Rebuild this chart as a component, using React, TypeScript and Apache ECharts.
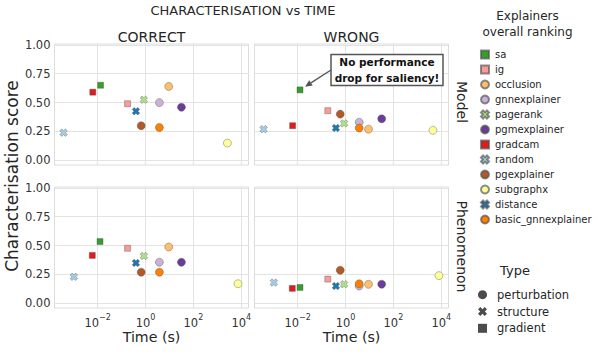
import React, { useEffect, useRef } from 'react';
import * as echarts from 'echarts';

const FONT = 'DejaVu Sans';

const explainers = ['sa', 'ig', 'occlusion', 'gnnexplainer', 'pagerank', 'pgmexplainer', 'gradcam', 'random', 'pgexplainer', 'subgraphx', 'distance', 'basic_gnnexplainer'];
const explainerKinds = ['gradient', 'gradient', 'perturbation', 'perturbation', 'structure', 'perturbation', 'gradient', 'structure', 'perturbation', 'perturbation', 'structure', 'perturbation'];
const explainerColors = ['#33a02c', '#fb9a99', '#fdbf6f', '#cab2d6', '#b2df8a', '#6a3d9a', '#e31a1c', '#a6cee3', '#b15928', '#ffff99', '#1f78b4', '#ff7f00'];
const typeNames = ['perturbation', 'structure', 'gradient'];

// time in seconds per explainer (same order as explainers)
const timeModelCorrect = [0.0133, 0.178, 9.33, 3.8, 0.851, 31.6, 0.0063, 0.00038, 0.661, 2630, 0.398, 3.8];
const timeModelWrong = [0.0126, 0.182, 9.12, 3.72, 0.871, 32.4, 0.0062, 0.00038, 0.603, 4467, 0.398, 3.72];
const timePhenCorrect = [0.0126, 0.178, 9.33, 3.8, 0.851, 31.6, 0.006, 0.00102, 0.661, 7244, 0.398, 3.8];
const timePhenWrong = [0.0126, 0.182, 9.12, 3.72, 0.871, 32.4, 0.006, 0.00102, 0.603, 7943, 0.398, 3.72];

// characterisation score per explainer
const scoreModelCorrect = [0.65, 0.49, 0.64, 0.5, 0.525, 0.46, 0.59, 0.24, 0.3, 0.15, 0.425, 0.285];
const scoreModelWrong = [0.61, 0.43, 0.27, 0.33, 0.32, 0.36, 0.3, 0.27, 0.4, 0.26, 0.28, 0.28];
const scorePhenCorrect = [0.535, 0.477, 0.488, 0.356, 0.41, 0.356, 0.415, 0.23, 0.27, 0.17, 0.35, 0.27];
const scorePhenWrong = [0.138, 0.21, 0.165, 0.15, 0.166, 0.166, 0.13, 0.18, 0.287, 0.24, 0.15, 0.17];

const columnTitles = ['CORRECT', 'WRONG'];
const rowTitles = ['Model', 'Phenomenon'];
const xTickValues = [1e-2, 1, 1e2, 1e4];
const yTickValues = [0, 0.25, 0.5, 0.75, 1];

const X_PATH = 'path://M0,2.6L2.6,0L5,2.4L7.4,0L10,2.6L7.6,5L10,7.4L7.4,10L5,7.6L2.6,10L0,7.4L2.4,5Z';
const SYMBOL: Record<string, string> = { perturbation: 'circle', structure: X_PATH, gradient: 'rect' };
const SIZE: Record<string, number> = { perturbation: 8, structure: 7.5, gradient: 6 };

const panels = [
  { times: timeModelCorrect, scores: scoreModelCorrect },
  { times: timeModelWrong, scores: scoreModelWrong },
  { times: timePhenCorrect, scores: scorePhenCorrect },
  { times: timePhenWrong, scores: scorePhenWrong },
];

const GRID_LEFT = [54.5, 254.5];
const GRID_TOP = [44, 187];
const GRID_W = 194;
const GRID_H = 121;

export default function App() {
  const ref = useRef<HTMLDivElement>(null);
  useEffect(() => {
    if (!ref.current) return;
    const chart = echarts.init(ref.current, null, { renderer: 'svg' });

    const grids: any[] = [];
    const xAxes: any[] = [];
    const yAxes: any[] = [];
    const series: any[] = [];

    panels.forEach((p, idx) => {
      const row = Math.floor(idx / 2);
      const col = idx % 2;
      grids.push({
        left: GRID_LEFT[col], top: GRID_TOP[row], width: GRID_W, height: GRID_H,
        show: true, borderColor: '#dcdcdc', borderWidth: 1, backgroundColor: '#fff',
      });
      xAxes.push({
        type: 'log', logBase: 10, gridIndex: idx,
        min: Math.pow(10, -3.8), max: Math.pow(10, 4.3),
        axisLine: { show: false },
        axisTick: { show: false, customValues: xTickValues },
        splitLine: { show: true, lineStyle: { color: '#e3e3e3', width: 1 } },
        axisLabel: {
          show: row === 1,
          customValues: xTickValues,
          margin: 5,
          formatter: (v: number) => {
            const e = Math.round(Math.log10(v));
            return '{b|10}{s|' + (e < 0 ? '\u2212' + Math.abs(e) : String(e)) + '}';
          },
          rich: {
            b: { fontSize: 11.5, fontFamily: FONT, color: '#333', lineHeight: 16, verticalAlign: 'bottom' },
            s: { fontSize: 8, fontFamily: FONT, color: '#333', lineHeight: 16, verticalAlign: 'top' },
          },
        },
        name: row === 1 ? 'Time (s)' : '',
        nameLocation: 'middle',
        nameGap: 22,
        nameTextStyle: { fontSize: 14.2, fontFamily: FONT, color: '#262626' },
      });
      yAxes.push({
        type: 'value', gridIndex: idx, min: -0.04, max: 1.007,
        axisLine: { show: false },
        axisTick: { show: false, customValues: yTickValues },
        splitLine: { show: true, lineStyle: { color: '#e3e3e3', width: 1 } },
        axisLabel: {
          show: col === 0,
          customValues: yTickValues,
          margin: 4,
          fontSize: 11.5,
          fontFamily: FONT,
          color: '#333',
          formatter: (v: number) => v.toFixed(2),
        },
      });
      explainers.forEach((name, i) => {
        const kind = explainerKinds[i];
        series.push({
          type: 'scatter', name, xAxisIndex: idx, yAxisIndex: idx,
          data: [[p.times[i], p.scores[i]]],
          symbol: SYMBOL[kind], symbolSize: SIZE[kind],
          itemStyle: { color: explainerColors[i], borderColor: 'rgba(80,80,80,0.65)', borderWidth: 0.6, opacity: 1 },
          emphasis: { disabled: true },
          silent: true,
          z: 3,
        });
      });
    });

    typeNames.forEach((name) => {
      series.push({
        type: 'scatter', name, xAxisIndex: 0, yAxisIndex: 0, data: [],
        symbol: SYMBOL[name], symbolSize: SIZE[name],
        itemStyle: { color: '#1f1f1f' },
      });
    });

    const texts: any[] = [
      { text: 'CHARACTERISATION vs TIME', x: 243, y: 10, size: 13, rot: 0 },
      { text: columnTitles[0], x: GRID_LEFT[0] + GRID_W / 2, y: 36.5, size: 14, rot: 0 },
      { text: columnTitles[1], x: GRID_LEFT[1] + GRID_W / 2, y: 36.5, size: 14, rot: 0 },
      { text: rowTitles[0], x: 462, y: 102, size: 14, rot: -Math.PI / 2 },
      { text: rowTitles[1], x: 462, y: 246.5, size: 14, rot: -Math.PI / 2 },
      { text: 'Characterisation score', x: 12, y: 176, size: 17, rot: Math.PI / 2 },
      { text: 'Explainers', x: 527.5, y: 16, size: 12, rot: 0 },
      { text: 'overall ranking', x: 527.5, y: 32, size: 12, rot: 0 },
      { text: 'Type', x: 515, y: 270, size: 13, rot: 0 },
    ];

    const textGraphics = texts.map((t) => ({
      type: 'text', x: t.x, y: t.y, rotation: t.rot, silent: true,
      style: { text: t.text, fontSize: t.size, fontFamily: FONT, fill: '#262626', textAlign: 'center', textVerticalAlign: 'middle' },
    }));

    chart.setOption({
      animation: false,
      textStyle: { fontFamily: FONT },
      grid: grids,
      xAxis: xAxes,
      yAxis: yAxes,
      series,
      legend: [
        {
          data: explainers, orient: 'vertical', left: 480, top: 48.5, padding: 0,
          itemWidth: 8, itemHeight: 8, itemGap: 3.0, selectedMode: false,
          textStyle: { fontSize: 10, lineHeight: 12, fontFamily: FONT, color: '#262626', padding: [0, 0, 0, 1] },
        },
        {
          data: typeNames, orient: 'vertical', left: 478, top: 287.7, padding: 0,
          itemWidth: 9, itemHeight: 9, itemGap: 2.8, selectedMode: false,
          textStyle: { fontSize: 11.5, lineHeight: 14, fontFamily: FONT, color: '#262626', padding: [0, 0, 0, 5] },
        },
      ],
      graphic: textGraphics,
    });

    // annotation arrow pointing at the saliency (sa) point in the WRONG / Model panel
    const target = chart.convertToPixel({ xAxisIndex: 1, yAxisIndex: 1 } as any, [timeModelWrong[0], scoreModelWrong[0]]) as number[];
    const start = [331, 70];
    const dx = target[0] - start[0];
    const dy = target[1] - start[1];
    const len = Math.sqrt(dx * dx + dy * dy);
    const ux = dx / len;
    const uy = dy / len;
    const tip = [target[0] - ux * 6, target[1] - uy * 6];
    const headLen = 7;
    const headW = 3.2;
    const base = [tip[0] - ux * headLen, tip[1] - uy * headLen];
    const head = [
      tip,
      [base[0] - uy * headW, base[1] + ux * headW],
      [base[0] + uy * headW, base[1] - ux * headW],
    ];

    chart.setOption({
      graphic: [
        ...textGraphics,
        { type: 'line', silent: true, shape: { x1: start[0], y1: start[1], x2: base[0], y2: base[1] }, style: { stroke: '#555', lineWidth: 1.3 }, z: 10 },
        { type: 'polygon', silent: true, shape: { points: head }, style: { fill: '#555' }, z: 10 },
        { type: 'rect', silent: true, shape: { x: 331, y: 54.5, width: 112, height: 31 }, style: { fill: '#fff', stroke: '#555', lineWidth: 1.5 }, z: 10 },
        { type: 'text', silent: true, x: 387, y: 70, z: 11, style: { text: 'No performance\ndrop for saliency!', fontSize: 10.5, fontWeight: 'bold', lineHeight: 15.5, fontFamily: FONT, fill: '#111', textAlign: 'center', textVerticalAlign: 'middle' } },
      ],
    });

    return () => chart.dispose();
  }, []);
  return <div ref={ref} style={{ width: 598, height: 358, position: 'absolute', left: 0, top: 0 }} />;
}
